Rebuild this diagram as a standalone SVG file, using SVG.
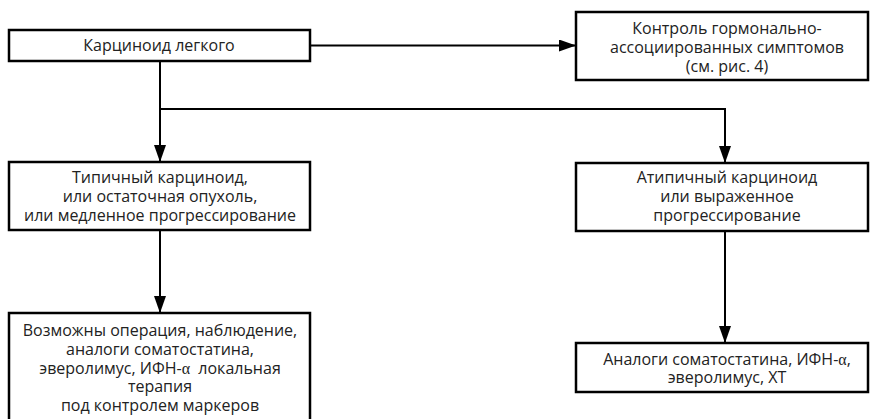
<svg xmlns="http://www.w3.org/2000/svg" width="874" height="419" viewBox="0 0 874 419">
<defs>
<marker id="ah" markerUnits="userSpaceOnUse" markerWidth="18" markerHeight="12" refX="17" refY="6" orient="auto">
<path d="M0,0 L17,6 L0,12 Z" fill="#000"/>
</marker>
<style>
.box{fill:#fff;stroke:#000;stroke-width:2.5}
.t{font-family:"Open Sans","Noto Sans",sans-serif;font-size:16px;fill:#222;text-anchor:middle;white-space:pre}
.g{font-family:"Liberation Serif",serif}
.ln{fill:none;stroke:#000;stroke-width:2}
</style>
</defs>
<rect width="874" height="419" fill="#fff"/>
<g id="connectors">
<path class="ln" d="M310,45.5 H576" marker-end="url(#ah)"/>
<path class="ln" d="M160,61 V162" marker-end="url(#ah)"/>
<path class="ln" d="M160,109 H725 V163" marker-end="url(#ah)"/>
<path class="ln" d="M160,230 V313" marker-end="url(#ah)"/>
<path class="ln" d="M725,231 V343" marker-end="url(#ah)"/>
</g>
<g id="n1">
<rect class="box" x="9" y="30" width="301" height="31"/>
<text class="t" x="159" y="51">Карциноид легкого</text>
</g>
<g id="n2">
<rect class="box" x="576" y="12" width="292" height="68"/>
<text class="t" x="727" y="34">Контроль гормонально-</text>
<text class="t" x="727" y="53">ассоциированных симптомов</text>
<text class="t" x="727" y="72">(см. рис. 4)</text>
</g>
<g id="n3">
<rect class="box" x="9" y="162" width="301" height="68"/>
<text class="t" x="160" y="183">Типичный карциноид,</text>
<text class="t" x="160" y="202">или остаточная опухоль,</text>
<text class="t" x="160" y="221">или медленное прогрессирование</text>
</g>
<g id="n4">
<rect class="box" x="576" y="163" width="292" height="68"/>
<text class="t" x="727" y="183">Атипичный карциноид</text>
<text class="t" x="727" y="202">или выраженное</text>
<text class="t" x="727" y="221">прогрессирование</text>
</g>
<g id="n5">
<rect class="box" x="9" y="313" width="301" height="120"/>
<text class="t" x="160" y="336">Возможны операция, наблюдение,</text>
<text class="t" x="160" y="355">аналоги соматостатина,</text>
<text class="t" x="160" y="374">эверолимус, ИФН-<tspan class="g">α</tspan>  локальная</text>
<text class="t" x="160" y="392">терапия</text>
<text class="t" x="160" y="411">под контролем маркеров</text>
</g>
<g id="n6">
<rect class="box" x="576" y="343" width="292" height="49"/>
<text class="t" x="727" y="365">Аналоги соматостатина, ИФН-<tspan class="g">α</tspan>,</text>
<text class="t" x="727" y="383">эверолимус, ХТ</text>
</g>
</svg>
